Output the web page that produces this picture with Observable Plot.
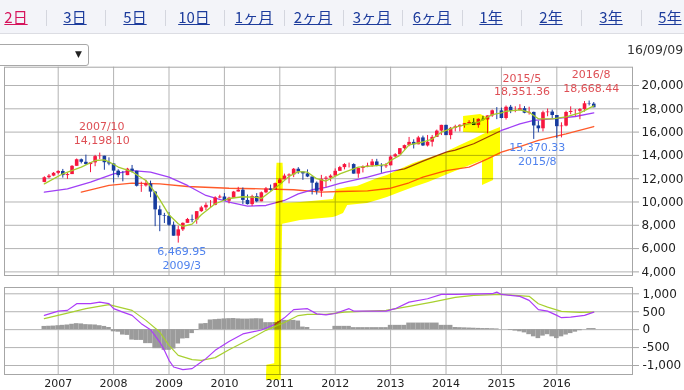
<!DOCTYPE html>
<html><head><meta charset="utf-8">
<script src="https://cdn.jsdelivr.net/npm/d3@7"></script>
<script src="https://cdn.jsdelivr.net/npm/@observablehq/plot@0.6"></script>
<style>
body{margin:0;background:#fff;width:684px;height:390px;overflow:hidden;position:relative;font-family:"DejaVu Sans",sans-serif;}
#tabs{position:absolute;left:0;top:0;width:684px;height:33px;background:#f3f4f9;border-bottom:1px solid #dcdde3;}
.tab{position:absolute;top:7px;transform:translateX(-50%);font-family:"Noto Sans CJK JP",sans-serif;font-size:15px;line-height:20px;text-decoration:underline;color:#1d3c9c;white-space:nowrap;}
.tab.on{color:#d6145c;}
.sep{position:absolute;top:10px;width:1px;height:16px;background:#d4d6de;}
#sel{position:absolute;left:-3px;top:44px;width:92px;height:22px;border:1px solid #a8a8a8;border-radius:3px;box-sizing:border-box;background:#fff;}
#sel span{position:absolute;right:6px;top:4px;font-size:9px;color:#222;}
#date{position:absolute;left:627px;top:42px;font-size:12.5px;line-height:16px;color:#333;font-family:"DejaVu Sans",sans-serif;white-space:nowrap;}
#main{position:absolute;left:0;top:56px;}
#macd{position:absolute;left:0;top:275px;}
</style></head>
<body>
<div id="tabs"></div>
<div id="sel"><span>▼</span></div>
<div id="date">16/09/09</div>
<div id="main"></div>
<div id="macd"></div>
<script>
// ---------- header ----------
const tabLabels = ["2日","3日","5日","10日","1ヶ月","2ヶ月","3ヶ月","6ヶ月","1年","2年","3年","5年"];
const tabCenters = [16,75,135,194,254,313,372,432,491,551,611,670];
const tabs = document.getElementById("tabs");
tabLabels.forEach((t,i)=>{
  const a=document.createElement("span"); a.className="tab"+(i===0?" on":""); a.textContent=t;
  a.style.left=tabCenters[i]+"px"; tabs.appendChild(a);
  if(i<tabLabels.length-1){const s=document.createElement("div");s.className="sep";
    s.style.left=Math.round((tabCenters[i]+tabCenters[i+1])/2)+"px";tabs.appendChild(s);}
});

// ---------- data (monthly, 2006/10 .. 2016/09) ----------
const openP = [11679,12081,12222,
 12463,12622,12268,12354,13063,13628,13409,13212,13358,13896,13930,13372,
 13265,12650,12266,12263,12820,12638,11350,11378,11544,10851,9325,8829,
 8776,8001,7063,7609,8168,8500,8447,9172,9496,9712,9713,10345,
 10428,10067,10325,10857,11009,10137,9774,10466,10015,10788,11118,11006,
 11578,11892,12226,12320,12811,12570,12414,12143,11614,10913,11955,12046,
 12218,12633,12952,13212,13214,12393,12880,13009,13091,13437,13096,13026,
 13104,13861,14054,14579,14840,15116,14910,15500,14810,15130,15546,16086,
 16577,15699,16322,16458,16581,16717,16827,16563,17098,17043,17391,17828,
 17823,17165,18133,17776,17841,18011,17620,17690,16528,16285,17664,17720,
 17425,16466,16517,17685,17774,17787,17930,18432,18401];
const highP = [12163,12361,12529,
 12683,12795,12489,13121,13692,13692,14022,13380,14000,14198,13930,13790,
 13280,12767,12622,12891,13136,12638,11698,11867,11790,10882,9654,9026,
 9088,8280,7924,8204,8588,8877,9172,9630,9917,10119,10450,10580,
 10730,10405,10907,11258,11205,10595,10580,10719,10860,11246,11451,11625,
 12020,12391,12420,12876,12950,12570,12753,12143,11717,12285,12187,12330,
 12841,13056,13290,13338,13279,12898,13103,13330,13653,13662,13290,13305,
 13970,14149,14586,14888,15542,15340,15634,15658,15710,15710,16175,16588,
 16588,16398,16588,16631,16735,16978,17152,17136,17350,17395,17895,18103,
 18064,18244,18289,18175,18351,18189,18137,17712,16933,17799,17978,17888,
 17425,16795,17790,18168,17934,18016,18622,18668,18538];
const lowP = [11653,11987,12170,
 12336,12050,11939,12354,13063,13267,13157,12518,13029,13640,12724,13110,
 11635,12070,11731,12263,12479,11288,10827,11281,10365,7882,7449,8149,
 7909,7063,6470,7467,8168,8222,8087,9108,9253,9487,9679,10285,
 10050,9835,10325,10857,9775,9742,9614,9937,10015,10712,10929,11006,
 11578,11892,11555,12093,12381,11862,12093,10604,10597,10404,11231,11735,
 12218,12633,12756,12921,12392,12035,12492,12942,12977,13027,12471,12883,
 13104,13784,14054,14444,14746,14551,14910,14760,14720,14720,15546,15703,
 15699,15340,16017,16015,16334,16674,16563,16333,16945,15855,17264,17068,
 17137,17037,17585,17664,17840,17576,17465,15370,15942,16013,17320,17138,
 15450,15503,16455,17484,17332,17063,17713,18247,18085];
const closeP = [12081,12222,12463,
 12622,12268,12354,13063,13628,13409,13212,13358,13896,13930,13372,13265,
 12650,12266,12263,12820,12638,11350,11378,11544,10851,9325,8829,8776,
 8001,7063,7609,8168,8500,8447,9172,9496,9712,9713,10345,10428,
 10067,10325,10857,11009,10137,9774,10466,10015,10788,11118,11006,11578,
 11892,12226,12320,12811,12570,12414,12143,11614,10913,11955,12046,12218,
 12633,12952,13212,13214,12393,12880,13009,13091,13437,13096,13026,13104,
 13861,14054,14579,14840,15116,14910,15500,14810,15130,15546,16086,16577,
 15699,16322,16458,16581,16717,16827,16563,17098,17043,17391,17828,17823,
 17165,18133,17776,17841,18011,17620,17690,16528,16285,17664,17720,17425,
 16466,16517,17685,17774,17787,17930,18432,18401,18085];

// moving averages: [month, value]
const maShort = [["2006-10",11560],["2007-02",12420],["2007-06",13000],["2007-09",13560],["2007-11",13620],["2007-12",13450],
 ["2008-02",13000],["2008-05",12600],["2008-08",11850],["2008-10",10800],["2008-11",10200],["2009-01",8900],["2009-03",8130],
 ["2009-04",7900],["2009-06",8100],["2009-08",8900],["2009-11",9850],["2010-02",10300],["2010-05",10450],["2010-08",10400],
 ["2010-09",10300],["2010-11",10900],["2011-01",11500],["2011-03",12200],["2011-05",12600],["2011-07",12560],["2011-09",12000],
 ["2011-11",11800],["2012-02",12420],["2012-06",12990],["2012-10",13130],["2012-12",13200],["2013-01",13560],["2013-03",14000],
 ["2013-05",14900],["2013-08",15150],["2013-10",15400],["2013-12",15990],["2014-03",16420],["2014-06",16710],["2014-08",16850],
 ["2014-11",17500],["2015-01",17650],["2015-02",17790],["2015-05",17910],["2015-07",17710],["2015-09",17140],["2015-12",17140],
 ["2016-03",17300],["2016-06",17650],["2016-09",18250]];
const maMid = [["2006-10",10840],["2007-03",11130],["2007-08",11700],["2008-01",12420],["2008-05",12700],["2008-09",12560],
 ["2009-01",12130],["2009-05",11420],["2009-09",10560],["2010-02",9990],["2010-06",9650],["2010-10",9700],["2011-02",10130],
 ["2011-05",10700],["2011-08",11050],["2011-11",11250],["2012-02",11600],["2012-08",12130],["2012-12",12560],["2013-04",12850],
 ["2013-08",13500],["2014-01",14280],["2014-03",14450],["2014-07",15000],["2015-01",16140],["2015-05",16700],["2015-08",17000],
 ["2015-12",17140],["2016-05",17340],["2016-09",17650]];
const maLong = [["2007-06",10840],["2007-12",11420],["2008-05",11620],["2008-11",11560],["2009-05",11330],["2010-02",11180],
 ["2010-09",11130],["2011-04",11050],["2011-10",10840],["2012-02",10900],["2012-08",10950],["2013-01",11180],["2013-05",11650],
 ["2013-08",12130],["2014-01",12700],["2014-06",12990],["2014-10",13700],["2015-01",14280],["2015-05",14760],["2015-09",15280],
 ["2016-03",15850],["2016-09",16480]];

// MACD panel
const macdLine = [["2006-10",398],["2007-01",518],["2007-03",538],["2007-05",724],["2007-08",724],["2007-10",769],["2007-12",724],
 ["2008-01",585],["2008-03",490],["2008-05",398],["2008-07",167],["2008-09",0],["2008-11",-345],["2008-12",-577],["2009-01",-855],
 ["2009-02",-1042],["2009-04",-1114],["2009-06",-1087],["2009-07",-994],["2009-09",-808],["2009-11",-577],["2010-02",-330],
 ["2010-05",-120],["2010-09",-10],["2010-12",150],["2011-02",330],["2011-04",560],["2011-07",585],["2011-09",440],["2011-11",410],
 ["2012-01",450],["2012-04",585],["2012-05",518],["2012-12",518],["2013-02",585],["2013-05",769],["2013-09",863],["2013-12",983],
 ["2014-03",983],["2014-11",1003],["2014-12",1047],["2015-01",983],["2015-05",928],["2015-07",816],["2015-09",557],["2015-11",518],
 ["2016-01",398],["2016-02",334],["2016-04",351],["2016-07",398],["2016-09",490]];
const signalLine = [["2006-10",306],["2007-03",462],["2007-07",585],["2007-12",696],["2008-05",538],["2008-08",259],["2008-11",-67],
 ["2009-01",-437],["2009-03",-716],["2009-06",-836],["2009-08",-855],["2009-11",-780],["2010-02",-560],["2010-06",-298],
 ["2010-10",-19],["2011-02",200],["2011-05",393],["2011-07",426],["2011-11",426],["2012-03",490],["2012-12",538],["2013-05",649],
 ["2013-10",769],["2014-03",900],["2014-07",955],["2015-01",983],["2015-07",930],["2015-09",724],["2015-11",630],["2016-02",510],
 ["2016-06",482],["2016-09",490]];
const histValues = [90,95,100,110,120,130,150,167,160,140,135,130,110,90,60,
 -60,-70,-150,-160,-290,-300,-300,-390,-390,-530,-530,-577,-577,-540,-400,-260,-250,-110,-20,160,170,270,280,290,300,
 306,310,300,295,295,300,305,300,195,195,200,230,259,259,259,240,72,60,
 0,0,0,0,0, 92,92,92,92, 56,56,56,56,56,56,56,56, 120,120,120,120, 184,184,184,184,184,184,184, 120,120,120,
 60,55,50,45,40,35,30,30,25,20, 0,0,
 -20,-40,-60,-90,-140,-200,-250,-180,-140,-200,-250,-200,-150,-110,-70,-30, 0,30,30];

// annotations
const notes = [
 {month:"2007-10", value:14198.10, text:"2007/10\n14,198.10", kind:"high"},
 {month:"2009-03", value:6469.95, text:"6,469.95\n2009/3", kind:"low"},
 {month:"2015-05", value:18351.36, text:"2015/5\n18,351.36", kind:"high"},
 {month:"2015-08", value:15370.33, text:"15,370.33\n2015/8", kind:"low"},
 {month:"2016-08", value:18668.44, text:"2016/8\n18,668.44", kind:"high"}];

// hand-drawn yellow highlighter strokes (month index, value)
const hlStroke = [{v:13330,a:50.4,b:51.7},{v:12500,a:50.3,b:51.8},{v:2660,a:50.0,b:51.4}];
const hlBand = [{x:51.4,lo:8070,hi:9870},{x:55.5,lo:8410,hi:9960},{x:62.6,lo:8670,hi:10210},{x:63.3,lo:8760,hi:11070},
 {x:64.8,lo:9010,hi:11160},{x:65.7,lo:9700,hi:11240},{x:67.8,lo:9790,hi:11330},{x:70.0,lo:9870,hi:11670},{x:72.2,lo:10130,hi:12010},
 {x:74.3,lo:10390,hi:12270},{x:77.1,lo:10820,hi:12790},{x:80.0,lo:11240,hi:13300},{x:83.2,lo:11670,hi:13730},{x:86.9,lo:12270,hi:14250},
 {x:90.1,lo:12790,hi:14850},{x:93.4,lo:13300,hi:15450},{x:95.1,lo:13560,hi:15790},{x:96.6,lo:13820,hi:16050},{x:98.8,lo:13990,hi:16395}];
const hlDrop = [{x:94.9,lo:11420,hi:13820},{x:97.3,lo:11850,hi:13820}];
const hlBox = [{x:90.8,lo:15965,hi:17340},{x:94.5,lo:15900,hi:17510},{x:96.4,lo:15880,hi:17170}];
const hlMacd = [{v:1511,a:50.0,b:51.4},{v:-950,a:49.9,b:51.4},{v:-994,a:48.2,b:51.4},{v:-1412,a:48.1,b:51.3}];

const years = [2007,2008,2009,2010,2011,2012,2013,2014,2015,2016];
const priceTicks = [4000,6000,8000,10000,12000,14000,16000,18000,20000];
const macdTicks = [-1000,-500,0,500,1000];

// ---------- helpers ----------
const ym = s => { const [y,m] = s.split("-").map(Number); return (y-2006)*12 + (m-10); };
const yearIdx = years.map(y => ym(y+"-01"));
const RED="#f7173f", BLUE="#173c9e";
const candles = closeP.map((c,i)=>({i, open:openP[i], high:highP[i], low:lowP[i], close:c,
  col: c>=openP[i] ? RED : BLUE}));
const pts = arr => arr.map(([m,v])=>({x:ym(m), v}));
const noteData = notes.map(n=>({...n, x:ym(n.month)}));
const fmt = d => d3.format(",")(d).replace("\u2212","-");
const xDom = [-8.63, 127.39];
const yellow = "#ffff00";
const grid = "#b3b3b3";

const main = Plot.plot({
  width:684, height:231, marginLeft:4, marginRight:52, marginTop:10.7, marginBottom:12,
  style:{background:"transparent", overflow:"visible", fontFamily:"DejaVu Sans", fontSize:"12px"},
  x:{domain:xDom, axis:null},
  y:{domain:[3690,21571], axis:null},
  color:{type:"identity"},
  marks:[
    Plot.gridY(priceTicks,{stroke:grid, strokeOpacity:1}),
    Plot.gridX(yearIdx,{stroke:grid, strokeOpacity:1}),
    Plot.frame({stroke:"#a6a6a6"}),
    Plot.axisY(priceTicks,{anchor:"right", label:null, tickSize:6, tickPadding:3, stroke:"#a6a6a6", fill:"#222", fontSize:12, tickFormat:fmt, textAnchor:"start"}),
    Plot.line(pts(maLong),{x:"x", y:"v", stroke:"#ff5a2a", strokeWidth:1.3}),
    Plot.line(pts(maMid),{x:"x", y:"v", stroke:"#a040f6", strokeWidth:1.3}),
    Plot.ruleX(candles,{x:"i", y1:"low", y2:"high", stroke:"col", strokeWidth:1}),
    Plot.ruleX(candles,{x:"i", y1:"open", y2:"close", stroke:"col", strokeWidth:3.6}),
    Plot.line(pts(maShort),{x:"x", y:"v", stroke:"#a5cc2c", strokeWidth:1.3}),
    Plot.areaX(hlStroke,{y:"v", x1:"a", x2:"b", fill:yellow, mixBlendMode:"multiply"}),
    Plot.areaY(hlBand,{x:"x", y1:"lo", y2:"hi", fill:yellow, mixBlendMode:"multiply"}),
    Plot.areaY(hlDrop,{x:"x", y1:"lo", y2:"hi", fill:yellow, mixBlendMode:"multiply"}),
    Plot.areaY(hlBox,{x:"x", y1:"lo", y2:"hi", fill:yellow, mixBlendMode:"multiply"}),
    Plot.text(noteData.filter(d=>d.kind==="high"),{x:"x", y:"value", text:"text", fill:"#de4f55", fontSize:11, lineHeight:1.24, dy:-20.5, dx:2}),
    Plot.text(noteData.filter(d=>d.kind==="low"),{x:"x", y:"value", text:"text", fill:"#4f82ee", fontSize:11, lineHeight:1.24, dy:14.5, dx:3.5})
  ]
});
document.getElementById("main").appendChild(main);

const macd = Plot.plot({
  width:684, height:115, marginLeft:4, marginRight:52, marginTop:12, marginBottom:16,
  style:{background:"transparent", overflow:"visible", fontFamily:"DejaVu Sans", fontSize:"12px"},
  x:{domain:xDom, axis:null},
  y:{domain:[-1251,1176], axis:null},
  marks:[
    Plot.gridY(macdTicks,{stroke:grid, strokeOpacity:1}),
    Plot.gridX(yearIdx,{stroke:grid, strokeOpacity:1}),
    Plot.frame({stroke:"#a6a6a6"}),
    Plot.axisY(macdTicks,{anchor:"right", label:null, tickSize:6, tickPadding:4, stroke:"#a6a6a6", fill:"#222", fontSize:12, tickFormat:fmt, textAnchor:"start"}),
    Plot.axisX(yearIdx,{anchor:"bottom", label:null, tickSize:0, tickPadding:5, fill:"#222", fontSize:11, tickFormat:(d,i)=>String(years[i])}),
    Plot.rectY(histValues.map((v,i)=>({i,v})),{x1:d=>d.i-0.5, x2:d=>d.i+0.5, y:"v", fill:"#9b9b9b"}),
    Plot.line(pts(signalLine),{x:"x", y:"v", stroke:"#a8d030", strokeWidth:1.2}),
    Plot.line(pts(macdLine),{x:"x", y:"v", stroke:"#ac3cf8", strokeWidth:1.2}),
    Plot.areaX(hlMacd,{y:"v", x1:"a", x2:"b", fill:yellow, mixBlendMode:"multiply"})
  ]
});
document.getElementById("macd").appendChild(macd);
</script>
</body></html>
